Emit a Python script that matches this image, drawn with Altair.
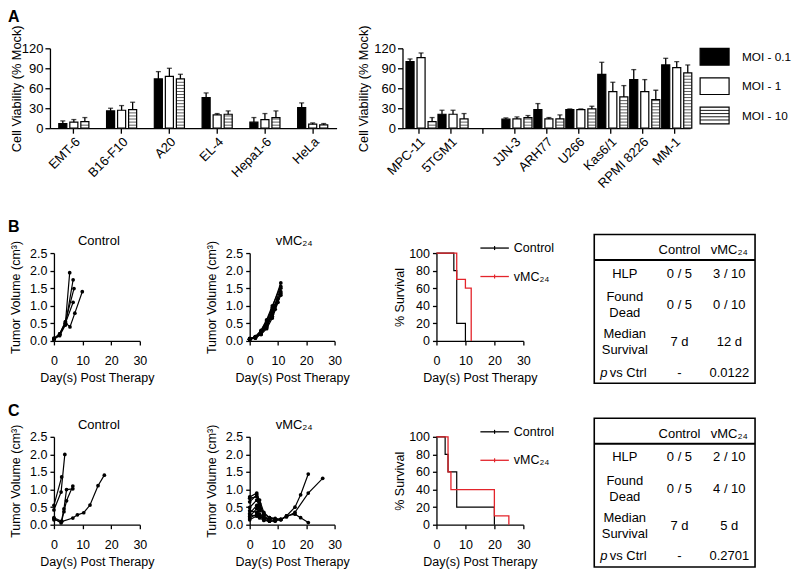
import altair as alt
import pandas as pd
import numpy as np

FONT = "Liberation Sans"
RED = "#e3242b"

# ---------------- Panel A data ----------------
moi_levels = ["MOI - 0.1", "MOI - 1", "MOI - 10"]

cats_left = ["EMT-6", "B16-F10", "A20", "EL-4", "Hepa1-6", "HeLa"]
moi01_left = [7, 26, 74, 46, 9, 31]
moi01_left_sd = [4, 4, 11, 7, 7, 7]
moi1_left = [9, 27, 78, 20, 13, 6]
moi1_left_sd = [4, 7, 12, 2, 9, 2]
moi10_left = [10, 28, 74, 21, 16, 5]
moi10_left_sd = [6, 11, 7, 5, 10, 2]

cats_right = ["MPC-11", "5TGM1", " ", "JJN-3", "ARH77", "U266", "Kas6/1", "RPMI 8226", "MM-1"]
moi01_right = [100, 21, None, 13.5, 28, 28, 81, 73, 95]
moi01_right_sd = [4, 6, None, 2, 9, 1, 18, 15, 10]
moi1_right = [106, 21, None, 14, 14, 28, 55, 55, 91]
moi1_right_sd = [7, 6, None, 3, 2, 1, 14, 18, 9]
moi10_right = [10, 14, None, 16, 14, 29, 47, 43, 83]
moi10_right_sd = [6, 8, None, 3, 6, 4, 17, 14, 12]

# ---------------- Panel B data ----------------
b_ctrl_days = [[0, 2, 4, 5.5], [0, 2, 4, 6.7], [0, 2, 4, 7], [0, 2, 4, 6.7], [0, 2, 4, 5.6, 7.3, 9.9]]
b_ctrl_vols = [[0.05, 0.2, 0.5, 1.94], [0.05, 0.15, 0.45, 1.74], [0.08, 0.2, 0.55, 1.49],
               [0.06, 0.18, 0.5, 1.1], [0.05, 0.18, 0.52, 0.4, 0.79, 1.4]]
b_vmc_days = [[0, 2, 4, 6, 8, 11], [0, 2, 4, 6, 8, 11], [0, 2, 4, 6, 8, 11], [0, 2, 4, 6, 8, 11],
              [0, 2, 4, 6, 8, 11], [0, 2, 4, 6, 8, 11], [0, 2, 4, 6, 8, 10], [0, 2, 4, 6, 8, 10],
              [0, 2, 4, 6, 9], [0, 2, 4, 6, 9]]
b_vmc_vols = [[0.05, 0.1, 0.25, 0.55, 0.95, 1.65], [0.05, 0.12, 0.3, 0.6, 1.0, 1.55],
              [0.06, 0.1, 0.2, 0.5, 0.85, 1.5], [0.05, 0.08, 0.22, 0.45, 0.8, 1.4],
              [0.07, 0.12, 0.28, 0.58, 0.9, 1.35], [0.05, 0.1, 0.2, 0.4, 0.75, 1.3],
              [0.04, 0.1, 0.25, 0.5, 0.7, 1.2], [0.05, 0.09, 0.18, 0.35, 0.65, 1.1],
              [0.05, 0.1, 0.2, 0.45, 1.0], [0.06, 0.11, 0.22, 0.4, 0.9]]
b_surv_ctrl_t = [0, 6, 7, 10]
b_surv_ctrl_s = [100, 80, 20, 0]
b_surv_vmc_t = [0, 7, 10, 12]
b_surv_vmc_s = [100, 70, 60, 0]
b_tab_ctrl = ["0 / 5", "0 / 5", "7 d", "-"]
b_tab_vmc = ["3 / 10", "0 / 10", "12 d", "0.0122"]

# ---------------- Panel C data ----------------
c_ctrl_days = [[0, 2.5, 3.8], [0, 2.7], [0, 2.7, 3.5, 4.4, 6.6], [0, 2.5, 3.5, 4.4, 6.6],
               [0, 2.7, 6.6, 8.2, 10.4, 12.6, 15.4, 17.6]]
c_ctrl_vols = [[0.42, 0.93, 2.0], [0.55, 1.36], [0.2, 0.1, 0.37, 0.68, 1.1], [0.18, 0.05, 0.45, 1.0, 1.02],
               [0.14, 0.09, 0.19, 0.28, 0.34, 0.56, 1.11, 1.41]]
c_vmc_days = [[0, 2.5, 3.5, 5, 7, 9, 11, 13, 16, 18, 20.7],
              [0, 2.5, 3.5, 5, 7, 9, 11, 13, 16, 20.7, 25.8],
              [0, 2.5, 3.5, 5, 7, 9, 11, 13, 16, 18, 20.7],
              [0, 2.5, 3.5], [0, 2.5, 3.5, 5, 7], [0, 2.5, 3.5, 5, 7, 9],
              [0, 2.5, 3.5, 5, 7, 9, 11], [0, 2.5, 3.5, 5], [0, 2.5, 3.5, 5, 7], [0, 2.5, 3.5]]
c_vmc_vols = [[0.79, 0.9, 0.6, 0.3, 0.2, 0.15, 0.15, 0.25, 0.5, 0.85, 1.44],
              [0.65, 0.85, 0.7, 0.35, 0.2, 0.18, 0.15, 0.22, 0.35, 0.9, 1.32],
              [0.49, 0.7, 0.5, 0.25, 0.15, 0.12, 0.15, 0.25, 0.3, 0.2, 0.06],
              [0.32, 0.55, 0.4], [0.23, 0.46, 0.3, 0.2, 0.12], [0.19, 0.3, 0.25, 0.15, 0.1, 0.1],
              [0.14, 0.25, 0.2, 0.12, 0.1, 0.12, 0.14], [0.75, 0.8, 0.55, 0.3],
              [0.4, 0.35, 0.28, 0.2, 0.15], [0.28, 0.25, 0.2]]
c_surv_ctrl_t = [0, 3, 4, 7, 20]
c_surv_ctrl_s = [100, 80, 60, 20, 0]
c_surv_vmc_t = [0, 4, 5, 20, 25]
c_surv_vmc_s = [100, 60, 40, 10, 0]
c_tab_ctrl = ["0 / 5", "0 / 5", "7 d", "-"]
c_tab_vmc = ["2 / 10", "4 / 10", "5 d", "0.2701"]

tab_header = ["Control", "vMC\u2082\u2084"]
tab_rows = [["HLP"], ["Found", "Dead"], ["Median", "Survival"]]

# ---------------- layout constants ----------------
A_H = 80
A_LW, A_RW, LEG_W = 287, 288, 29
R_H = 88
T1_W, T2_W, S_W, TAB_W = 86, 85, 87, 161


def spacer(w, h, y0=None, y1=None):
    df = pd.DataFrame({"s": [0]})
    if y0 is None:
        enc = dict(x=alt.value(0), y=alt.value(0), y2=alt.value(1))
    else:
        enc = dict(x=alt.value(0), y=alt.value(y0), y2=alt.value(y1))
    return alt.Chart(df).mark_rule(opacity=0).encode(**enc).properties(width=w, height=h)


def letter(ch, x, y):
    return alt.Chart(pd.DataFrame({"t": [ch]})).mark_text(
        fontSize=16, fontWeight="bold", align="left", baseline="top").encode(
        x=alt.value(x), y=alt.value(y), text="t:N")


# ---------------- bar panels ----------------
def bar_panel(cats, vals, sds, width, pad_in, off_pad, bar_w, title_x, extra=None):
    rows = []
    for lvl, vl, sl in zip(moi_levels, vals, sds):
        for c, v, s in zip(cats, vl, sl):
            if v is None:
                continue
            rows.append({"cat": c, "moi": lvl, "value": v, "top": v + s,
                         "fillc": "black" if lvl == "MOI - 0.1" else "white"})
    df = pd.DataFrame(rows)
    hrows = []
    step = 4.6
    for rec in df[df["moi"] == "MOI - 10"].to_dict("records"):
        yv = step
        while yv < rec["value"] - 1.5:
            hrows.append({"cat": rec["cat"], "moi": rec["moi"], "h": yv})
            yv += step
    hdf = pd.DataFrame(hrows)

    xs = alt.Scale(domain=cats, paddingInner=pad_in, paddingOuter=pad_in / 2)
    xax = alt.Axis(title=None, labelAngle=-45, labelAlign="right", labelBaseline="top",
                   labelPadding=2, tickSize=5, labelFontSize=13)
    ys = alt.Scale(domain=[0, 120], nice=False)
    yax = alt.Axis(values=[0, 30, 60, 90, 120], title="Cell Viability (% Mock)", tickSize=5,
                   labelPadding=2, titleX=title_x, titleY=A_H / 2, titleBaseline="middle",
                   titleAngle=270, labelFontSize=13, titleFontSize=12.8)
    offs = alt.Scale(domain=moi_levels, paddingInner=off_pad, paddingOuter=0)

    def X():
        return alt.X("cat:N", sort=cats, scale=xs, axis=xax)

    def XO():
        return alt.XOffset("moi:N", sort=moi_levels, scale=offs)

    def Y(f):
        return alt.Y(f + ":Q", scale=ys, axis=yax, title="Cell Viability (% Mock)")

    bars = alt.Chart(df).mark_bar(stroke="black", strokeWidth=1.2).encode(
        x=X(), xOffset=XO(), y=Y("value"), fill=alt.Fill("fillc:N", scale=None))
    hatch = alt.Chart(hdf).mark_tick(color="black", thickness=0.9, size=bar_w).encode(
        x=X(), xOffset=XO(), y=Y("h"))
    err = alt.Chart(df).mark_rule(color="black", strokeWidth=1.3).encode(
        x=X(), xOffset=XO(), y=Y("value"), y2="top:Q")
    cap = alt.Chart(df).mark_tick(color="black", thickness=1.3, size=5).encode(
        x=X(), xOffset=XO(), y=Y("top"))
    layers = [bars, hatch, err, cap]
    if extra:
        layers += extra
    return alt.layer(*layers).properties(width=width, height=A_H)


a_left = bar_panel(cats_left, [moi01_left, moi1_left, moi10_left],
                   [moi01_left_sd, moi1_left_sd, moi10_left_sd], A_LW, 0.37, 0.27, 8.1, -33,
                   extra=[letter("A", -42, -39),
                          alt.Chart(pd.DataFrame({"s": [0]})).mark_rule(opacity=0).encode(
                              x=alt.value(-42), y=alt.value(-40), y2=alt.value(150))])
a_right = bar_panel(cats_right, [moi01_right, moi1_right, moi10_right],
                    [moi01_right_sd, moi1_right_sd, moi10_right_sd], A_RW, 0.22, 0.15, 7.4, -39)

# legend for panel A
leg_df = pd.DataFrame({"lab": moi_levels, "i": [0, 1, 2],
                       "fillc": ["black", "white", "white"]})
leg_df["y0"] = leg_df["i"] - 0.284
leg_df["y1"] = leg_df["i"] + 0.284
leg_y = alt.Scale(domain=[-0.5, 2.5], range=[-6.2, 82])
hatch_off = np.arange(-0.175, 0.25, 0.109)
leg_h = pd.DataFrame({"i": 2 + hatch_off})
legend_sq = alt.Chart(leg_df).mark_rect(stroke="black", strokeWidth=1.2).encode(
    x=alt.value(0), x2=alt.value(LEG_W),
    y=alt.Y("y0:Q", scale=leg_y, axis=None), y2="y1:Q", fill=alt.Fill("fillc:N", scale=None))
legend_h = alt.Chart(leg_h).mark_rule(color="black", strokeWidth=0.9).encode(
    x=alt.value(0), x2=alt.value(LEG_W), y=alt.Y("i:Q", scale=leg_y, axis=None))
legend_t = alt.Chart(leg_df).mark_text(align="left", baseline="middle", fontSize=11.8).encode(
    x=alt.value(42), y=alt.Y("i:Q", scale=leg_y, axis=None), text="lab:N")
a_legend = alt.layer(legend_sq, legend_h, legend_t).properties(width=LEG_W, height=A_H)

row_a = alt.hconcat(a_left, spacer(66, A_H), a_right, spacer(10, A_H), a_legend,
                    spacing=0, bounds="flush")


# ---------------- tumour panels ----------------
def x_axis_days():
    return alt.Axis(values=[0, 10, 20, 30], title="Day(s) Post Therapy", tickSize=4,
                    labelPadding=10, titlePadding=4, labelFlush=False)


def tumor_panel(days, vols, width, title, let=None):
    rows = []
    for m, (dl, vl) in enumerate(zip(days, vols)):
        for d, v in zip(dl, vl):
            rows.append({"mouse": m, "day": d, "vol": v})
    df = pd.DataFrame(rows)
    x = alt.X("day:Q", scale=alt.Scale(domain=[0, 30], nice=False), axis=x_axis_days())
    y = alt.Y("vol:Q", scale=alt.Scale(domain=[0, 2.5], nice=False),
              axis=alt.Axis(values=[0, 0.5, 1, 1.5, 2, 2.5], format=".1f",
                            title="Tumor Volume (cm\u00b3)", tickSize=4, labelPadding=3,
                            titleX=-38, titleY=R_H / 2, titleBaseline="middle", titleAngle=270))
    lines = alt.Chart(df).mark_line(color="black", strokeWidth=1.2).encode(
        x=x, y=y, detail="mouse:N", order="day:Q")
    pts = alt.Chart(df).mark_circle(color="black", size=14, opacity=1).encode(x=x, y=y)
    ttl = alt.Chart(pd.DataFrame({"t": [title]})).mark_text(fontSize=13, baseline="middle").encode(
        x=alt.value(width / 2 + 2), y=alt.value(-12), text="t:N")
    layers = [lines, pts, ttl]
    if let:
        layers.append(letter(let, -46, -34))
    return alt.layer(*layers).properties(width=width, height=R_H)


def surv_panel(ct, cs, vt, vs, width):
    cdf = pd.DataFrame({"t": ct, "s": cs})
    vdf = pd.DataFrame({"t": vt, "s": vs})
    x = alt.X("t:Q", scale=alt.Scale(domain=[0, 30], nice=False), axis=x_axis_days())
    y = alt.Y("s:Q", scale=alt.Scale(domain=[0, 100], nice=False),
              axis=alt.Axis(values=[0, 20, 40, 60, 80, 100], title="% Survival", tickSize=4,
                            labelPadding=3, titleX=-37, titleY=R_H / 2, titleBaseline="middle",
                            titleAngle=270))
    lc = alt.Chart(cdf).mark_line(color="black", strokeWidth=1.2, interpolate="step-after").encode(x=x, y=y)
    lv = alt.Chart(vdf).mark_line(color=RED, strokeWidth=1.3, interpolate="step-after").encode(x=x, y=y)
    layers = [lc, lv]
    one = pd.DataFrame({"s": [0]})
    for lab, col, yy in [("Control", "black", -5), ("vMC\u2082\u2084", RED, 23.5)]:
        layers.append(alt.Chart(one).mark_rule(color=col, strokeWidth=1.3).encode(
            x=alt.value(44), x2=alt.value(72.5), y=alt.value(yy)))
        layers.append(alt.Chart(one).mark_rule(color=col, strokeWidth=1.2).encode(
            x=alt.value(58.2), y=alt.value(yy - 2), y2=alt.value(yy + 2)))
        layers.append(alt.Chart(pd.DataFrame({"t": [lab]})).mark_text(
            align="left", baseline="middle", fontSize=12.5).encode(
            x=alt.value(77.5), y=alt.value(yy), text="t:N"))
    return alt.layer(*layers).properties(width=width, height=R_H)


def table_panel(ctrl, vmc):
    xs = alt.Scale(domain=[0, 3], range=[0, TAB_W])
    ys = alt.Scale(domain=[0, 6], range=[-18.6, 130.3])
    col_pos = [0.57, 1.59, 2.52]
    row_pos = [1.58, 2.843, 4.342, 5.57]
    line_gap = 0.633
    head_pos = 0.633
    line_pos = 1.03
    border = pd.DataFrame({"x0": [0], "x1": [3], "y0": [0], "y1": [6]})
    box = alt.Chart(border).mark_rect(fillOpacity=0, stroke="black", strokeWidth=1.6).encode(
        x=alt.X("x0:Q", scale=xs, axis=None), x2="x1:Q",
        y=alt.Y("y0:Q", scale=ys, axis=None), y2="y1:Q")
    hl = alt.Chart(pd.DataFrame({"x0": [0], "x1": [3], "y": [line_pos]})).mark_rule(
        color="black", strokeWidth=1.8).encode(
        x=alt.X("x0:Q", scale=xs, axis=None), x2="x1:Q", y=alt.Y("y:Q", scale=ys, axis=None))
    cells = []
    for j, h in enumerate(tab_header):
        cells.append({"cx": col_pos[j + 1], "cy": head_pos, "txt": h})
    for i, lines in enumerate(tab_rows):
        n = len(lines)
        for k, ln in enumerate(lines):
            cells.append({"cx": col_pos[0], "cy": row_pos[i] + (k - (n - 1) / 2) * line_gap, "txt": ln})
    for i in range(4):
        cells.append({"cx": col_pos[1], "cy": row_pos[i], "txt": ctrl[i]})
        cells.append({"cx": col_pos[2], "cy": row_pos[i], "txt": vmc[i]})
    cdf = pd.DataFrame(cells)
    txt = alt.Chart(cdf).mark_text(fontSize=13, baseline="middle").encode(
        x=alt.X("cx:Q", scale=xs, axis=None), y=alt.Y("cy:Q", scale=ys, axis=None), text="txt:N")
    pdf = pd.DataFrame({"cx": [0.11], "cy": [row_pos[3]], "txt": ["p"]})
    p_t = alt.Chart(pdf).mark_text(fontSize=13, baseline="middle", align="left", fontStyle="italic").encode(
        x=alt.X("cx:Q", scale=xs, axis=None), y=alt.Y("cy:Q", scale=ys, axis=None), text="txt:N")
    vdf = pd.DataFrame({"cx": [0.29], "cy": [row_pos[3]], "txt": ["vs Ctrl"]})
    v_t = alt.Chart(vdf).mark_text(fontSize=13, baseline="middle", align="left").encode(
        x=alt.X("cx:Q", scale=xs, axis=None), y=alt.Y("cy:Q", scale=ys, axis=None), text="txt:N")
    return alt.layer(box, hl, txt, p_t, v_t).properties(width=TAB_W, height=R_H)


def panel_row(let, cd, cv, vd, vv, st, tab, top_mark, bot_mark):
    return alt.hconcat(
        spacer(4, R_H, top_mark, bot_mark),
        tumor_panel(cd, cv, T1_W, "Control", let),
        spacer(110, R_H),
        tumor_panel(vd, vv, T2_W, "vMC\u2082\u2084"),
        spacer(102, R_H),
        surv_panel(*st, S_W),
        spacer(71, R_H),
        table_panel(*tab),
        spacing=0, bounds="flush")


row_b = panel_row("B", b_ctrl_days, b_ctrl_vols, b_vmc_days, b_vmc_vols,
                  (b_surv_ctrl_t, b_surv_ctrl_s, b_surv_vmc_t, b_surv_vmc_s),
                  (b_tab_ctrl, b_tab_vmc), -55, 140)
row_c = panel_row("C", c_ctrl_days, c_ctrl_vols, c_vmc_days, c_vmc_vols,
                  (c_surv_ctrl_t, c_surv_ctrl_s, c_surv_vmc_t, c_surv_vmc_s),
                  (c_tab_ctrl, c_tab_vmc), -44, 140)

chart = alt.vconcat(row_a, row_b, row_c, spacing=0).properties(padding=0).configure(
    font=FONT).configure_view(stroke=None).configure_axis(
    domainColor="black", tickColor="black", labelColor="black", titleColor="black",
    domainWidth=1.3, tickWidth=1.3, labelFontSize=12.5, titleFontSize=12.5,
    titleFontWeight="normal", grid=False, labelFont=FONT, titleFont=FONT)

chart.save("out.html", embed_options={"renderer": "svg", "actions": False})
